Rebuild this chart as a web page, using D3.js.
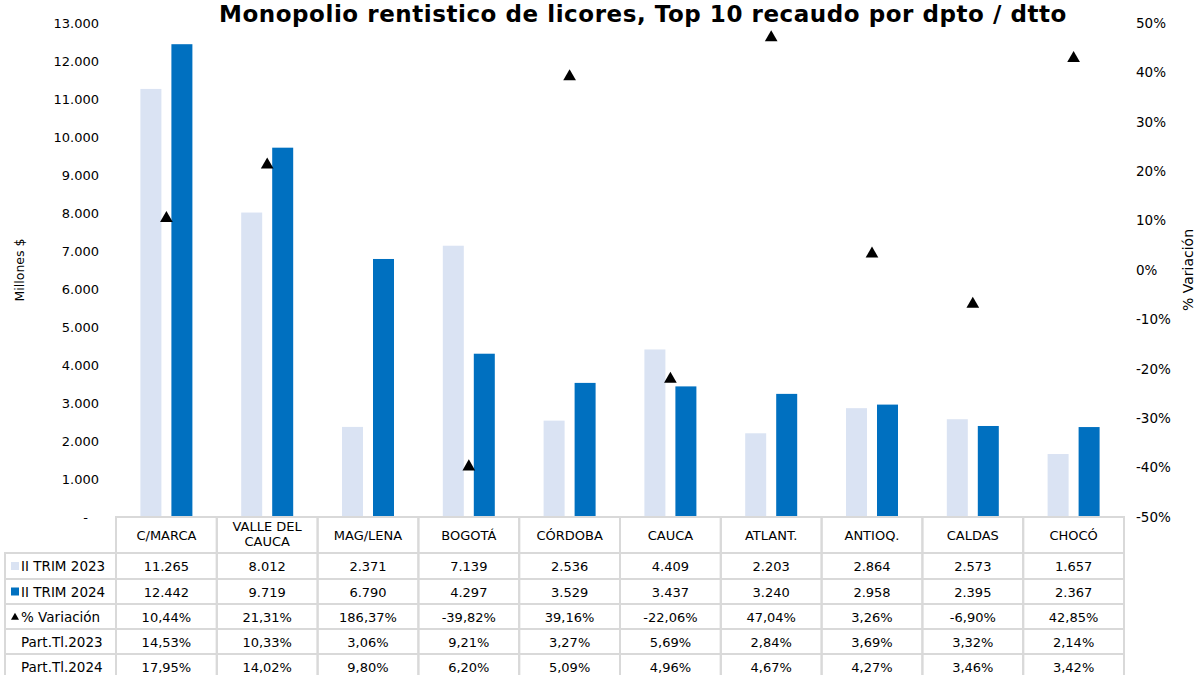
<!DOCTYPE html>
<html><head><meta charset="utf-8">
<script src="https://cdn.jsdelivr.net/npm/d3@7"></script>
<style>body{margin:0;background:#fff}svg{display:block;font-family:"DejaVu Sans",Verdana,sans-serif}</style>
</head><body><svg id="c" width="1195" height="675"></svg>
<script>
const categories = ["C/MARCA","VALLE DEL\nCAUCA","MAG/LENA","BOGOTÁ","CÓRDOBA","CAUCA","ATLANT.","ANTIOQ.","CALDAS","CHOCÓ"];
const trim2023 = [11265,8012,2371,7139,2536,4409,2203,2864,2573,1657];
const trim2024 = [12442,9719,6790,4297,3529,3437,3240,2958,2395,2367];
const variacion = [10.44,21.31,186.37,-39.82,39.16,-22.06,47.04,3.26,-6.90,42.85];
const part2023 = ["14,53%","10,33%","3,06%","9,21%","3,27%","5,69%","2,84%","3,69%","3,32%","2,14%"];
const part2024 = ["17,95%","14,02%","9,80%","6,20%","5,09%","4,96%","4,67%","4,27%","3,46%","3,42%"];
const leftTicks = [0,1000,2000,3000,4000,5000,6000,7000,8000,9000,10000,11000,12000,13000];
const rightTicks = [-50,-40,-30,-20,-10,0,10,20,30,40,50];
const seriesNames = ["II TRIM 2023","II TRIM 2024","% Variación","Part.Tl.2023","Part.Tl.2024"];
const colors = {light:"#dae3f3", dark:"#0070c0"};

const svg = d3.select("#c");
const L=116, R=1124, T=23, B=517;
const x = d3.scaleBand().domain(d3.range(categories.length)).range([L,R]);
const y = d3.scaleLinear().domain([0,13000]).range([B,T]);
const y2 = d3.scaleLinear().domain([-50,50]).range([B,T]);
const fmtN = v => d3.format(",")(v).replace(/,/g,".");
const fmtP = v => v.toFixed(2).replace(".",",")+"%";

// title
svg.append("text").attr("x",643).attr("y",22).attr("text-anchor","middle")
  .attr("font-weight","bold").attr("font-size",23).attr("letter-spacing",0.55)
  .text("Monopolio rentistico de licores, Top 10 recaudo por dpto / dtto");

// left axis
const gl = svg.append("g").attr("transform",`translate(${L},0)`)
  .call(d3.axisLeft(y).tickValues(leftTicks).tickSize(0).tickPadding(17).tickFormat(v=>v===0?"-":fmtN(v)));
gl.select(".domain").remove();
gl.selectAll("text").attr("font-size",13).attr("fill","#000").attr("font-family","DejaVu Sans, sans-serif");
gl.selectAll(".tick").filter(d=>d===0).select("text").attr("dx",-11);

// right axis
const gr = svg.append("g").attr("transform",`translate(${R},0)`)
  .call(d3.axisRight(y2).tickValues(rightTicks).tickSize(0).tickPadding(12).tickFormat(v=>v+"%"));
gr.select(".domain").remove();
gr.selectAll("text").attr("font-size",13.5).attr("fill","#000").attr("font-family","DejaVu Sans, sans-serif");

// axis titles
svg.append("text").attr("transform","translate(24,270) rotate(-90)").attr("text-anchor","middle")
  .attr("font-size",12.5).text("Millones $");
svg.append("text").attr("transform","translate(1193,270) rotate(-90)").attr("text-anchor","middle")
  .attr("font-size",14).text("% Variación");

// bars
const bw = 21, off = 15.5;
const cx = i => x(i)+x.bandwidth()/2;
svg.append("g").selectAll("rect").data(trim2023).join("rect")
  .attr("x",(d,i)=>cx(i)-off-bw/2).attr("width",bw).attr("y",d=>y(d)).attr("height",d=>B-y(d)).attr("fill",colors.light);
svg.append("g").selectAll("rect").data(trim2024).join("rect")
  .attr("x",(d,i)=>cx(i)+off-bw/2).attr("width",bw).attr("y",d=>y(d)).attr("height",d=>B-y(d)).attr("fill",colors.dark);

// markers (values beyond the axis range are not shown)
const tri = d3.symbol().type(d3.symbolTriangle).size(70);
svg.append("g").selectAll("path").data(variacion).join("path")
  .attr("d",tri).attr("transform",(d,i)=>`translate(${cx(i)},${y2(d)})`).attr("fill","#000")
  .attr("display",d=>d>55||d<-55?"none":null);

// table
const grid = "#d9d9d9";
const rowY = [517,553,579,604,629,654,680];
const tg = svg.append("g");
const rows = [trim2023.map(fmtN), trim2024.map(fmtN), variacion.map(fmtP), part2023, part2024];
categories.forEach((c,i)=>{
  for(let r=0;r<6;r++){
    tg.append("rect").attr("x",x(i)).attr("y",rowY[r]).attr("width",x.bandwidth()).attr("height",rowY[r+1]-rowY[r])
      .attr("fill","none").attr("stroke",grid).attr("stroke-width",2);
  }
  const lines = c.split("\n");
  const t = tg.append("text").attr("x",cx(i)).attr("text-anchor","middle").attr("font-size",13);
  if(lines.length===1){ t.attr("y",540).text(c); }
  else { lines.forEach((l,k)=>t.append("tspan").attr("x",cx(i)).attr("y",531+k*15).text(l)); }
  rows.forEach((vals,r)=>{
    tg.append("text").attr("x",cx(i)).attr("y",(rowY[r+1]+rowY[r+2])/2+5).attr("text-anchor","middle")
      .attr("font-size",13).text(vals[i]);
  });
});
for(let r=1;r<6;r++){
  tg.append("rect").attr("x",5).attr("y",rowY[r]).attr("width",L-5).attr("height",rowY[r+1]-rowY[r])
    .attr("fill","none").attr("stroke",grid).attr("stroke-width",2);
  const yy=(rowY[r]+rowY[r+1])/2+5;
  tg.append("text").attr("x",21).attr("y",yy).attr("font-size",13.5).text(seriesNames[r-1]);
  if(r===1||r===2) tg.append("rect").attr("x",11).attr("y",yy-9).attr("width",8).attr("height",8).attr("fill",r===1?colors.light:colors.dark);
  if(r===3) tg.append("path").attr("d",d3.symbol().type(d3.symbolTriangle).size(28)).attr("transform",`translate(15,${yy-4})`);
}
</script></body></html>
